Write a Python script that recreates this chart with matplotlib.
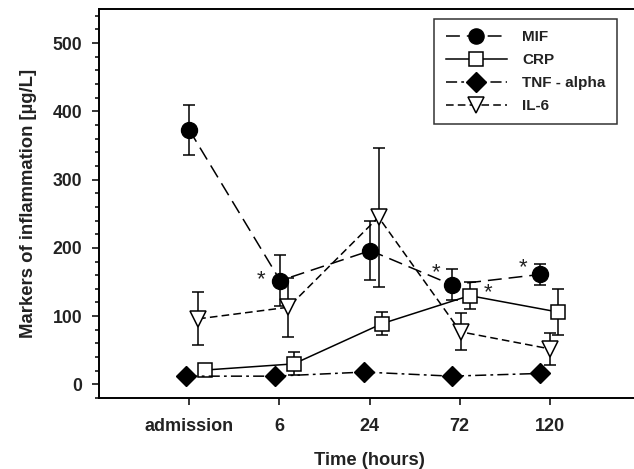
import matplotlib
matplotlib.use("Agg")
import matplotlib.pyplot as plt
from matplotlib.ticker import MultipleLocator

plt.rcParams['font.family'] = ['Liberation Sans', 'DejaVu Sans']
plt.rcParams['lines.scale_dashes'] = False

# categories on the x axis
time_labels = ['admission', '6', '24', '72', '120']

# each series is shifted a little sideways in the original figure
mif_x = [0.0, 1.01, 2.01, 2.91, 3.89]
mif = [373, 152, 196, 146, 161]
mif_err = [37, 37, 43, 23, 15]

crp_x = [0.18, 1.16, 2.14, 3.11, 4.09]
crp = [21, 30, 89, 130, 106]
crp_err = [5, 17, 17, 20, 33]

tnf_x = [-0.03, 0.95, 1.94, 2.91, 3.89]
tnf = [12, 12, 18, 12, 16]

il6_x = [0.1, 1.1, 2.1, 3.01, 4.0]
il6 = [96, 113, 245, 77, 52]
il6_err = [39, 43, 102, 27, 23]

# significance marks: (x, y, dx, dy) offsets in points
stars = [(mif_x[1], mif[1], -14, 1),
         (mif_x[3], mif[3], -11, 9),
         (mif_x[4], mif[4], -12.5, 5),
         (crp_x[3], crp[3], 13.5, 2)]

fig = plt.figure(figsize=(6.34, 4.69), dpi=100)
ax = fig.add_axes([99/634, 71/469, 541/634, 389/469])

txt = '#222222'
lw = 1.1

# error bars first
for xs, ys, es in [(mif_x, mif, mif_err), (crp_x, crp, crp_err), (il6_x, il6, il6_err)]:
    ax.errorbar(xs, ys, yerr=es, fmt='none', ecolor='black', elinewidth=1.1,
                capsize=4.3, capthick=1.1, zorder=2)

ax.plot(mif_x, mif, color='black', lw=lw, ls=(0, (10, 5)), marker='o', ms=11.5,
        mfc='black', mec='black', label='MIF', zorder=3)
ax.plot(crp_x, crp, color='black', lw=lw, ls='-', marker='s', ms=10.5,
        mfc='white', mec='black', mew=1.1, label='CRP', zorder=3)
ax.plot(tnf_x, tnf, color='black', lw=lw, ls=(0, (8, 3, 2, 3)), marker='D', ms=10.5,
        mfc='black', mec='black', label='TNF - alpha', zorder=3)
ax.plot(il6_x, il6, color='black', lw=lw, ls=(0, (5.5, 3)), marker='v', ms=12,
        mfc='white', mec='black', mew=1.1, label='IL-6', zorder=4)

for x, y, dx, dy in stars:
    ax.annotate('*', (x, y), xytext=(dx, dy), textcoords='offset points',
                ha='center', va='center', fontsize=16, color=txt)

ax.set_xlim(-1, 5)
ax.set_ylim(-20, 550)
ax.set_xticks(range(len(time_labels)))
ax.set_xticklabels(time_labels)
ax.yaxis.set_major_locator(MultipleLocator(100))
ax.yaxis.set_minor_locator(MultipleLocator(20))
ax.set_yticks([0, 100, 200, 300, 400, 500])

for s in ['left', 'bottom', 'top']:
    ax.spines[s].set_linewidth(1.4)
ax.spines['right'].set_visible(False)

ax.tick_params(axis='y', which='major', direction='out', length=5, width=1.1,
               pad=7, labelsize=12.7, labelcolor=txt)
ax.tick_params(axis='y', which='minor', direction='out', length=3, width=1.1)
ax.tick_params(axis='x', which='major', direction='out', length=5, width=1.1,
               pad=9.5, labelsize=13, labelcolor=txt)
for lab in ax.get_xticklabels() + ax.get_yticklabels():
    lab.set_fontweight('bold')

ax.set_xlabel('Time (hours)', fontsize=13.2, fontweight='bold', color=txt, labelpad=12)
ax.set_ylabel('Markers of inflammation [µg/L]', fontsize=13.3, fontweight='bold',
              color=txt, labelpad=11)

leg = ax.legend(loc='upper right', bbox_to_anchor=(518/541, 379/389), borderaxespad=0,
                frameon=True, fancybox=False, edgecolor='black', fontsize=11,
                handlelength=4.0, handletextpad=1.0, labelspacing=0.58, borderpad=0.75,
                markerscale=0.95)
leg.get_frame().set_linewidth(1.1)
for t in leg.get_texts():
    t.set_fontweight('bold')
    t.set_color(txt)

fig.savefig('out.png', dpi=100)
